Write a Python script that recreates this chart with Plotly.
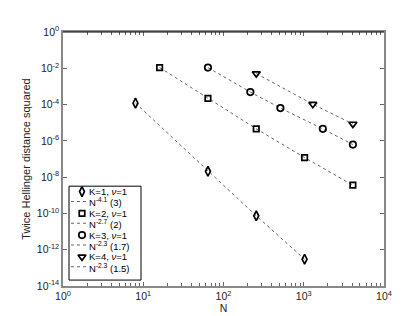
import plotly.graph_objects as go

# Data
N1 = [8, 64, 256, 1024]
D1 = [1.2e-4, 2.1e-8, 7.4e-11, 3.0e-13]
N2 = [16, 64, 256, 1024, 4096]
D2 = [1.1e-2, 2.2e-4, 4.6e-6, 1.2e-7, 3.6e-9]
N3 = [64, 216, 512, 1728, 4096]
D3 = [1.1e-2, 4.9e-4, 6.4e-5, 4.6e-6, 6.2e-7]
N4 = [256, 1296, 4096]
D4 = [5.1e-3, 1.05e-4, 8.5e-6]

data_names = ["K=1, <i>ν</i>=1", "K=2, <i>ν</i>=1", "K=3, <i>ν</i>=1", "K=4, <i>ν</i>=1"]
fit_names = ["N<sup>-4.1</sup> (3)", "N<sup>-2.7</sup> (2)", "N<sup>-2.3</sup> (1.7)", "N<sup>-2.3</sup> (1.5)"]
symbols = ["diamond-tall-open", "square-open", "circle-open", "triangle-down-open"]
sizes = [7, 5.5, 6.5, 7]

xtickvals = [1, 10, 100, 1000, 10000]
xticktext = ["10<sup>0</sup>", "10<sup>1</sup>", "10<sup>2</sup>", "10<sup>3</sup>", "10<sup>4</sup>"]
ytickvals = [1e0, 1e-2, 1e-4, 1e-6, 1e-8, 1e-10, 1e-12, 1e-14]
yticktext = ["10<sup>0</sup>", "10<sup>-2</sup>", "10<sup>-4</sup>", "10<sup>-6</sup>",
             "10<sup>-8</sup>", "10<sup>-10</sup>", "10<sup>-12</sup>", "10<sup>-14</sup>"]
minor_x = [m * 10 ** e for e in range(0, 4) for m in range(2, 10)]

FONT = "Liberation Sans, Arial, Helvetica, sans-serif"
W, H = 415, 316
ML, MR, MT, MB = 55, 39, 24, 35
PW, PH = W - ML - MR, H - MT - MB


def px_x(px):
    return (px - ML) / PW


def px_y(py):
    return (H - MB - py) / PH


fig = go.Figure()
for Ns, Ds, sym, sz in zip([N1, N2, N3, N4], [D1, D2, D3, D4], symbols, sizes):
    fig.add_trace(go.Scatter(x=Ns, y=Ds, mode="lines", showlegend=False, hoverinfo="skip",
                             line=dict(color="#666666", width=1, dash="dot")))
    fig.add_trace(go.Scatter(x=Ns, y=Ds, mode="markers", showlegend=False,
                             marker=dict(symbol=sym, size=sz, color="black",
                                         line=dict(width=1.7, color="black"))))

# Manual legend (box, samples, texts)
box_l, box_r, box_t, box_b = 61, 133, 180, 275
fig.add_shape(type="rect", xref="paper", yref="paper", layer="below",
              x0=px_x(box_l), x1=px_x(box_r), y0=px_y(box_b), y1=px_y(box_t),
              line=dict(color="black", width=1), fillcolor="white")
row0, pair_pitch, sub = 185.5, 22, 10
for i, (dn, fn, sym, sz) in enumerate(zip(data_names, fit_names, symbols, sizes)):
    ym = row0 + i * pair_pitch
    yl = ym + sub
    fig.add_trace(go.Scatter(x=[px_x(74)], y=[px_y(ym)], xaxis="x2", yaxis="y2", mode="markers",
                             showlegend=False, hoverinfo="skip",
                             marker=dict(symbol=sym, size=sz, color="black",
                                         line=dict(width=1.7, color="black"))))
    fig.add_shape(type="line", xref="paper", yref="paper", x0=px_x(63), x1=px_x(78),
                  y0=px_y(yl), y1=px_y(yl), line=dict(color="#666666", width=1, dash="dot"))
    fig.add_annotation(x=px_x(79), y=px_y(ym), xref="paper", yref="paper", text=dn,
                       showarrow=False, xanchor="left", yanchor="middle",
                       font=dict(family=FONT, size=9.5, color="black"))
    fig.add_annotation(x=px_x(79), y=px_y(yl + 1), xref="paper", yref="paper", text=fn,
                       showarrow=False, xanchor="left", yanchor="middle",
                       font=dict(family=FONT, size=9.5, color="black"))

fig.update_layout(
    width=W, height=H,
    margin=dict(l=ML, r=MR, t=MT, b=MB),
    plot_bgcolor="white", paper_bgcolor="white",
    font=dict(family=FONT, size=10.5, color="#222"),
    showlegend=False,
    xaxis=dict(type="log", range=[0, 4], tickmode="array",
               tickvals=xtickvals, ticktext=xticktext,
               ticks="inside", ticklen=4, tickcolor="#666", showgrid=False, zeroline=False,
               showline=True, linecolor="#888", linewidth=1.5, mirror="ticks",
               minor=dict(tickvals=minor_x, ticks="inside", ticklen=3, tickcolor="#666",
                          showgrid=False),
               title=dict(text="N", standoff=2, font=dict(size=10.5))),
    yaxis=dict(type="log", range=[-14, 0], tickmode="array", tickvals=ytickvals,
               ticktext=yticktext,
               ticks="inside", ticklen=4, tickcolor="#666", showgrid=False, zeroline=False,
               showline=True, linecolor="#888", linewidth=1.5, mirror="ticks",
               title=dict(text="Twice Hellinger distance squared", standoff=4,
                          font=dict(size=11))),
    xaxis2=dict(overlaying="x", range=[0, 1], visible=False, fixedrange=True),
    yaxis2=dict(overlaying="y", range=[0, 1], visible=False, fixedrange=True),
)
fig.add_shape(type="line", xref="paper", yref="paper", x0=0, x1=1, y0=1, y1=1,
              line=dict(color="black", width=1))
fig.write_html("out.html")
